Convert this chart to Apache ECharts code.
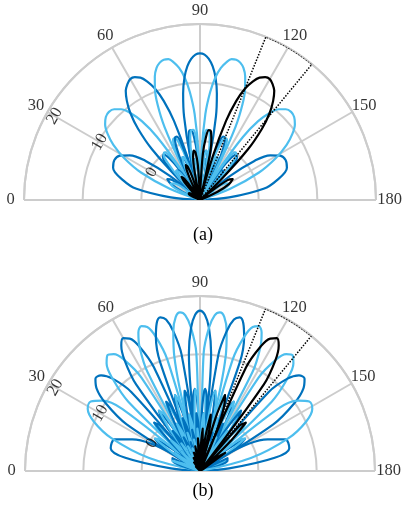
<!DOCTYPE html>
<html><head><meta charset="utf-8">
<script src="https://cdn.jsdelivr.net/npm/echarts@6/dist/echarts.min.js"></script>
<style>html,body{margin:0;padding:0;background:#fff}#c{width:404px;height:518px}</style>
</head><body><div id="c"></div>
<script>
// ---------- data ----------
const angleTicks = [0, 30, 60, 90, 120, 150, 180];
const radiusTicks = [0, 10, 20];
const radiusMin = -10, radiusMax = 20;
const radiusLabelAngle = 30;
const sectorEdges = [112, 129.5];
const sectorArc = [112, 115, 118, 121, 124, 127, 129.5];
const panelLabels = ['(a)', '(b)'];

const thetaDeg = [0,5,10,
 14.36,20.36,25.00,28.96,32.46,35.66,38.62,41.41,44.05,46.57,
 48.99,51.32,53.58,55.77,57.91,60.00,62.05,64.06,66.03,67.98,
 69.89,71.79,73.67,75.52,77.36,79.19,81.01,82.82,84.62,86.42,
 88.21,90.00,91.79,93.58,95.38,97.18,98.99,100.81,102.64,104.48,
 106.33,108.21,110.11,112.02,113.97,115.94,117.95,120.00,122.09,124.23,
 126.42,128.68,131.01,133.43,135.95,138.59,141.38,144.34,147.54,151.04,
 155.00,159.64,165.64,
 170,175,180];

// panel (a) beams (dB)
const gainA_0 = [-10,-5,1.0,
 3.5,5.8,6.1,5.6,4.2,1.5,-3.5,-10,-7.2,-2.3,
 -0.4,-0.1,-1.1,-3.8,-9.4,-10,-9.9,-4.8,-2.6,-2.1,
 -3.0,-5.4,-10,-10,-10,-5.9,-3.6,-3.0,-3.7,-6.1,
 -10,-10,-10,-6.1,-3.7,-3.0,-3.6,-5.9,-10,-10,
 -10,-5.4,-3.0,-2.1,-2.6,-4.8,-9.9,-10,-9.4,-3.8,
 -1.1,-0.1,-0.4,-2.3,-7.2,-10,-3.5,1.5,4.2,5.6,
 6.1,5.8,3.5,
 1.0,-5,-10];
const gainA_41 = [-10,-10,-10,
 -10,-4.5,1.1,4.8,7.5,9.4,10.7,11.4,11.6,11.3,
 10.5,9.0,6.7,3.0,-3.4,-10,-5.1,-0.5,1.3,1.4,
 0.2,-2.6,-8.3,-10,-9.0,-4.0,-2.0,-1.5,-2.5,-5.0,
 -10,-10,-10,-5.7,-3.5,-3.0,-3.8,-6.2,-10,-10,
 -10,-6.5,-4.2,-3.6,-4.3,-6.6,-10,-10,-10,-6.6,
 -4.3,-3.6,-4.3,-6.6,-10,-10,-10,-6.8,-4.7,-4.3,
 -5.5,-8.7,-10,
 -10,-10,-10];
const gainA_60 = [-10,-10,-10,
 -10,-10,-6.7,-4.3,-3.4,-4.2,-8.1,-10,-5.1,1.9,
 6.1,9.0,11.0,12.5,13.3,13.8,13.7,13.2,12.1,10.5,
 8.0,4.2,-2.3,-10,-4.2,0.3,1.9,2.0,0.7,-2.1,
 -8.0,-10,-8.8,-3.9,-1.9,-1.5,-2.5,-5.1,-10,-10,
 -10,-6.1,-4.0,-3.6,-4.4,-7.0,-10,-10,-10,-7.7,
 -5.5,-5.0,-5.9,-8.5,-10,-10,-10,-9.7,-7.8,-7.8,
 -9.3,-10,-10,
 -10,-10,-10];
const gainA_76 = [-10,-10,-10,
 -10,-10,-9.9,-7.8,-7.3,-8.5,-10,-10,-10,-4.9,
 -1.7,-0.1,0.1,-1.2,-5.5,-10,-3.0,3.8,7.8,10.5,
 12.4,13.7,14.4,14.7,14.6,13.9,12.8,11.1,8.5,4.7,
 -2.0,-10,-4.0,0.4,2.0,2.0,0.6,-2.3,-8.2,-10,
 -9.2,-4.3,-2.4,-2.1,-3.2,-5.9,-10,-10,-10,-7.3,
 -5.4,-5.0,-6.1,-8.8,-10,-10,-10,-10,-9.1,-9.2,
 -10,-10,-10,
 -10,-10,-10];
const gainA_90 = [-10,-10,-10,
 -10,-10,-10,-9.2,-8.9,-10,-10,-10,-10,-7.8,
 -4.9,-3.6,-3.7,-5.5,-10,-10,-9.0,-3.0,0.0,1.4,
 1.5,0.0,-4.4,-10,-2.2,4.5,8.4,11.1,12.9,14.1,
 14.8,15.0,14.8,14.1,12.9,11.1,8.4,4.5,-2.2,-10,
 -4.4,0.0,1.5,1.4,0.0,-3.0,-9.0,-10,-10,-5.5,
 -3.7,-3.6,-4.9,-7.8,-10,-10,-10,-10,-8.9,-9.2,
 -10,-10,-10,
 -10,-10,-10];
const gainA_104 = [-10,-10,-10,
 -10,-10,-10,-9.2,-9.1,-10,-10,-10,-10,-8.8,
 -6.1,-5.0,-5.4,-7.3,-10,-10,-10,-5.9,-3.2,-2.1,
 -2.4,-4.3,-9.2,-10,-8.2,-2.3,0.6,2.0,2.0,0.4,
 -4.0,-10,-2.0,4.7,8.5,11.1,12.8,13.9,14.6,14.7,
 14.4,13.7,12.4,10.5,7.8,3.8,-3.0,-10,-5.5,-1.2,
 0.1,-0.1,-1.7,-4.9,-10,-10,-10,-8.5,-7.3,-7.8,
 -9.9,-10,-10,
 -10,-10,-10];
const gainA_120 = [-10,-10,-10,
 -10,-10,-9.3,-7.8,-7.8,-9.7,-10,-10,-10,-8.5,
 -5.9,-5.0,-5.5,-7.7,-10,-10,-10,-7.0,-4.4,-3.6,
 -4.0,-6.1,-10,-10,-10,-5.1,-2.5,-1.5,-1.9,-3.9,
 -8.8,-10,-8.0,-2.1,0.7,2.0,1.9,0.3,-4.2,-10,
 -2.3,4.2,8.0,10.5,12.1,13.2,13.7,13.8,13.3,12.5,
 11.0,9.0,6.1,1.9,-5.1,-10,-8.1,-4.2,-3.4,-4.3,
 -6.7,-10,-10,
 -10,-10,-10];
const gainA_139 = [-10,-10,-10,
 -10,-8.7,-5.5,-4.3,-4.7,-6.8,-10,-10,-10,-6.6,
 -4.3,-3.6,-4.3,-6.6,-10,-10,-10,-6.6,-4.3,-3.6,
 -4.2,-6.5,-10,-10,-10,-6.2,-3.8,-3.0,-3.5,-5.7,
 -10,-10,-10,-5.0,-2.5,-1.5,-2.0,-4.0,-9.0,-10,
 -8.3,-2.6,0.2,1.4,1.3,-0.5,-5.1,-10,-3.4,3.0,
 6.7,9.0,10.5,11.3,11.6,11.4,10.7,9.4,7.5,4.8,
 1.1,-4.5,-10,
 -10,-10,-10];

// panel (b) beams (dB)
const gainB_0 = [-10,-5,3,
 5.8,5.6,2.8,-10,-2.7,-0.5,-4.2,-10,-5.4,-2.8,
 -6.3,-10,-7.0,-4.3,-7.6,-10,-8.1,-5.3,-8.5,-10,
 -8.8,-5.9,-9.1,-10,-9.3,-6.4,-9.4,-10,-9.5,-6.6,
 -9.6,-10,-9.6,-6.6,-9.5,-10,-9.4,-6.4,-9.3,-10,
 -9.1,-5.9,-8.8,-10,-8.5,-5.3,-8.1,-10,-7.6,-4.3,
 -7.0,-10,-6.3,-2.8,-5.4,-10,-4.2,-0.5,-2.7,-10,
 2.8,5.6,5.8,
 3,-5,-10];
const gainB_29 = [-10,-10,-10,
 -1.0,6.2,10.1,12.0,12.2,10.7,7.0,-10,-0.5,1.4,
 -2.6,-10,-4.1,-1.7,-5.3,-10,-6.2,-3.6,-6.9,-10,
 -7.5,-4.8,-8.1,-10,-8.5,-5.7,-8.8,-10,-9.1,-6.2,
 -9.3,-10,-9.5,-6.6,-9.6,-10,-9.7,-6.7,-9.7,-10,
 -9.7,-6.7,-9.6,-10,-9.5,-6.4,-9.3,-10,-9.1,-6.0,
 -8.9,-10,-8.6,-5.4,-8.3,-10,-7.9,-4.7,-7.6,-10,
 -7.6,-5.0,-9.4,
 -10,-10,-10];
const gainB_41 = [-10,-10,-10,
 -10,-5.0,-4.8,-10,4.9,9.9,12.7,13.9,13.6,11.8,
 7.9,-10,0.8,2.5,-1.6,-10,-3.3,-1.0,-4.6,-10,
 -5.6,-3.1,-6.5,-10,-7.2,-4.5,-7.8,-10,-8.3,-5.5,
 -8.7,-10,-9.1,-6.2,-9.4,-10,-9.6,-6.7,-9.8,-10,
 -9.9,-7.0,-10,-10,-10,-7.1,-10,-10,-10,-7.1,
 -10,-10,-10,-7.1,-10,-10,-10,-7.3,-10,-10,
 -10,-9.2,-10,
 -10,-10,-10];
const gainB_51 = [-10,-10,-10,
 -10,-9.2,-9.7,-10,-5.6,-0.5,-1.4,-10,7.1,11.8,
 14.4,15.4,14.9,13.0,8.9,-10,1.6,3.2,-0.9,-10,
 -2.8,-0.5,-4.2,-10,-5.3,-2.8,-6.3,-10,-7.0,-4.4,
 -7.7,-10,-8.3,-5.5,-8.8,-10,-9.2,-6.4,-9.5,-10,
 -9.9,-7.0,-10,-10,-10,-7.5,-10,-10,-10,-7.9,
 -10,-10,-10,-8.3,-10,-10,-10,-9.0,-10,-10,
 -10,-10,-10,
 -10,-10,-10];
const gainB_60 = [-10,-10,-10,
 -10,-10,-10,-10,-9.2,-4.7,-6.3,-10,-3.3,1.4,
 0.3,-10,8.4,13.0,15.4,16.3,15.7,13.7,9.5,-10,
 2.2,3.7,-0.5,-10,-2.4,-0.2,-3.9,-10,-5.1,-2.7,
 -6.1,-10,-7.0,-4.4,-7.7,-10,-8.4,-5.7,-8.9,-10,
 -9.4,-6.7,-9.9,-10,-10,-7.5,-10,-10,-10,-8.2,
 -10,-10,-10,-9.0,-10,-10,-10,-10,-10,-10,
 -10,-10,-10,
 -10,-10,-10];
const gainB_68 = [-10,-10,-10,
 -10,-10,-10,-10,-10,-7.3,-9.2,-10,-7.0,-2.8,
 -4.7,-10,-2.0,2.5,1.3,-10,9.2,13.7,16.0,16.8,
 16.3,14.2,9.9,-10,2.5,4.0,-0.3,-10,-2.3,-0.1,
 -3.8,-10,-5.1,-2.7,-6.2,-10,-7.1,-4.5,-7.9,-10,
 -8.6,-5.9,-9.3,-10,-9.9,-7.1,-10,-10,-10,-8.2,
 -10,-10,-10,-9.3,-10,-10,-10,-10,-10,-10,
 -10,-10,-10,
 -10,-10,-10];
const gainB_76 = [-10,-10,-10,
 -10,-10,-10,-10,-10,-9.0,-10,-10,-9.3,-5.4,
 -7.5,-10,-5.7,-1.7,-3.7,-10,-1.2,3.2,1.9,-10,
 9.8,14.2,16.4,17.2,16.6,14.4,10.2,-10,2.7,4.1,
 -0.1,-10,-2.2,-0.1,-3.9,-10,-5.2,-2.8,-6.4,-10,
 -7.4,-4.8,-8.2,-10,-9.0,-6.4,-9.8,-10,-10,-7.9,
 -10,-10,-10,-9.3,-10,-10,-10,-10,-10,-10,
 -10,-10,-10,
 -10,-10,-10];
const gainB_83 = [-10,-10,-10,
 -10,-10,-10,-10,-10,-10,-10,-10,-10,-7.1,
 -9.4,-10,-8.0,-4.3,-6.5,-10,-4.9,-1.0,-3.0,-10,
 -0.7,3.7,2.3,-10,10.1,14.4,16.7,17.4,16.8,14.6,
 10.3,-10,2.7,4.1,-0.2,-10,-2.3,-0.2,-4.0,-10,
 -5.5,-3.1,-6.7,-10,-7.8,-5.3,-8.8,-10,-9.7,-7.1,
 -10,-10,-10,-9.0,-10,-10,-10,-10,-10,-10,
 -10,-10,-10,
 -10,-10,-10];
const gainB_90 = [-10,-10,-10,
 -10,-10,-10,-10,-10,-10,-10,-10,-10,-8.3,
 -10,-10,-9.6,-6.0,-8.4,-10,-7.2,-3.6,-5.9,-10,
 -4.4,-0.5,-2.6,-10,-0.4,4.0,2.6,-10,10.3,14.6,
 16.8,17.5,16.8,14.6,10.3,-10,2.6,4.0,-0.4,-10,
 -2.6,-0.5,-4.4,-10,-5.9,-3.6,-7.2,-10,-8.4,-6.0,
 -9.6,-10,-10,-8.3,-10,-10,-10,-10,-10,-10,
 -10,-10,-10,
 -10,-10,-10];
const gainB_97 = [-10,-10,-10,
 -10,-10,-10,-10,-10,-10,-10,-10,-10,-9.0,
 -10,-10,-10,-7.1,-9.7,-10,-8.8,-5.3,-7.8,-10,
 -6.7,-3.1,-5.5,-10,-4.0,-0.2,-2.3,-10,-0.2,4.1,
 2.7,-10,10.3,14.6,16.8,17.4,16.7,14.4,10.1,-10,
 2.3,3.7,-0.7,-10,-3.0,-1.0,-4.9,-10,-6.5,-4.3,
 -8.0,-10,-9.4,-7.1,-10,-10,-10,-10,-10,-10,
 -10,-10,-10,
 -10,-10,-10];
const gainB_104 = [-10,-10,-10,
 -10,-10,-10,-10,-10,-10,-10,-10,-10,-9.3,
 -10,-10,-10,-7.9,-10,-10,-9.8,-6.4,-9.0,-10,
 -8.2,-4.8,-7.4,-10,-6.4,-2.8,-5.2,-10,-3.9,-0.1,
 -2.2,-10,-0.1,4.1,2.7,-10,10.2,14.4,16.6,17.2,
 16.4,14.2,9.8,-10,1.9,3.2,-1.2,-10,-3.7,-1.7,
 -5.7,-10,-7.5,-5.4,-9.3,-10,-10,-9.0,-10,-10,
 -10,-10,-10,
 -10,-10,-10];
const gainB_112 = [-10,-10,-10,
 -10,-10,-10,-10,-10,-10,-10,-10,-10,-9.3,
 -10,-10,-10,-8.2,-10,-10,-10,-7.1,-9.9,-10,
 -9.3,-5.9,-8.6,-10,-7.9,-4.5,-7.1,-10,-6.2,-2.7,
 -5.1,-10,-3.8,-0.1,-2.3,-10,-0.3,4.0,2.5,-10,
 9.9,14.2,16.3,16.8,16.0,13.7,9.2,-10,1.3,2.5,
 -2.0,-10,-4.7,-2.8,-7.0,-10,-9.2,-7.3,-10,-10,
 -10,-10,-10,
 -10,-10,-10];
const gainB_120 = [-10,-10,-10,
 -10,-10,-10,-10,-10,-10,-10,-10,-10,-9.0,
 -10,-10,-10,-8.2,-10,-10,-10,-7.5,-10,-10,
 -9.9,-6.7,-9.4,-10,-8.9,-5.7,-8.4,-10,-7.7,-4.4,
 -7.0,-10,-6.1,-2.7,-5.1,-10,-3.9,-0.2,-2.4,-10,
 -0.5,3.7,2.2,-10,9.5,13.7,15.7,16.3,15.4,13.0,
 8.4,-10,0.3,1.4,-3.3,-10,-6.3,-4.7,-9.2,-10,
 -10,-10,-10,
 -10,-10,-10];
const gainB_129 = [-10,-10,-10,
 -10,-10,-10,-10,-10,-9.0,-10,-10,-10,-8.3,
 -10,-10,-10,-7.9,-10,-10,-10,-7.5,-10,-10,
 -10,-7.0,-9.9,-10,-9.5,-6.4,-9.2,-10,-8.8,-5.5,
 -8.3,-10,-7.7,-4.4,-7.0,-10,-6.3,-2.8,-5.3,-10,
 -4.2,-0.5,-2.8,-10,-0.9,3.2,1.6,-10,8.9,13.0,
 14.9,15.4,14.4,11.8,7.1,-10,-1.4,-0.5,-5.6,-10,
 -9.7,-9.2,-10,
 -10,-10,-10];
const gainB_139 = [-10,-10,-10,
 -10,-9.2,-10,-10,-10,-7.3,-10,-10,-10,-7.1,
 -10,-10,-10,-7.1,-10,-10,-10,-7.1,-10,-10,
 -10,-7.0,-9.9,-10,-9.8,-6.7,-9.6,-10,-9.4,-6.2,
 -9.1,-10,-8.7,-5.5,-8.3,-10,-7.8,-4.5,-7.2,-10,
 -6.5,-3.1,-5.6,-10,-4.6,-1.0,-3.3,-10,-1.6,2.5,
 0.8,-10,7.9,11.8,13.6,13.9,12.7,9.9,4.9,-10,
 -4.8,-5.0,-10,
 -10,-10,-10];
const gainB_151 = [-10,-10,-10,
 -9.4,-5.0,-7.6,-10,-7.6,-4.7,-7.9,-10,-8.3,-5.4,
 -8.6,-10,-8.9,-6.0,-9.1,-10,-9.3,-6.4,-9.5,-10,
 -9.6,-6.7,-9.7,-10,-9.7,-6.7,-9.7,-10,-9.6,-6.6,
 -9.5,-10,-9.3,-6.2,-9.1,-10,-8.8,-5.7,-8.5,-10,
 -8.1,-4.8,-7.5,-10,-6.9,-3.6,-6.2,-10,-5.3,-1.7,
 -4.1,-10,-2.6,1.4,-0.5,-10,7.0,10.7,12.2,12.0,
 10.1,6.2,-1.0,
 -10,-10,-10];

// ---------- styling ----------
const DARK = '#0072bd', LIGHT = '#4dbeee', BLACK = '#000000', GRID = '#cccccc';
const FONT = '"Liberation Serif","Times New Roman",serif';
const FS = 16.5;
const ANGLE_LABEL_GAP = 13.5;   // px beyond the outer ring

const panels = [
  {center: [200, 200], radius: 176, label: [203, 235],
   beams: [[gainA_0, DARK], [gainA_41, LIGHT], [gainA_60, DARK], [gainA_76, LIGHT], [gainA_90, DARK],
           [gainA_104, LIGHT], [gainA_139, LIGHT], [gainA_120, BLACK]]},
  {center: [200, 471], radius: 175, label: [203, 491],
   beams: [[gainB_0, DARK], [gainB_29, LIGHT], [gainB_41, DARK], [gainB_51, LIGHT], [gainB_60, DARK],
           [gainB_68, LIGHT], [gainB_76, DARK], [gainB_83, LIGHT], [gainB_90, DARK], [gainB_97, LIGHT],
           [gainB_104, DARK], [gainB_112, LIGHT], [gainB_129, LIGHT], [gainB_139, DARK], [gainB_151, LIGHT],
           [gainB_120, BLACK]]}
];
// offsets are in the rotated text frame: +y points toward the centre
const radiusLabelOffsets = [[0, 3], [0, 1.5], [0, 8]];

const option = {animation: false, backgroundColor: '#fff',
  polar: [], angleAxis: [], radiusAxis: [], series: [], graphic: []};

const labelStyle = {show: true, position: 'inside', color: '#000', fontFamily: FONT, fontSize: FS};

panels.forEach((p, pi) => {
  option.polar.push({center: p.center, radius: p.radius});
  option.angleAxis.push({polarIndex: pi, type: 'value', min: angleTicks[0], max: angleTicks[angleTicks.length - 1],
    interval: angleTicks[1] - angleTicks[0], startAngle: 180, endAngle: 0, clockwise: true,
    axisLine: {show: true, lineStyle: {color: GRID, width: 2}}, axisTick: {show: false},
    axisLabel: {show: false},
    splitLine: {show: true, lineStyle: {color: GRID, width: 2}}});
  option.radiusAxis.push({polarIndex: pi, type: 'value', min: radiusMin, max: radiusMax,
    interval: radiusTicks[1] - radiusTicks[0],
    axisLine: {show: false}, axisTick: {show: false}, axisLabel: {show: false},
    splitLine: {show: true, lineStyle: {color: GRID, width: 2}}});
  p.beams.forEach(([g, col], k) => {
    if (g.length !== thetaDeg.length) throw new Error('length mismatch panel ' + pi + ' beam ' + k + ': ' + g.length);
    option.series.push({type: 'line', coordinateSystem: 'polar', polarIndex: pi, silent: true,
      symbol: 'none', showSymbol: false, smooth: 0.35, z: col === BLACK ? 4 : 3,
      lineStyle: {color: col, width: 2.2, join: 'round'}, itemStyle: {color: col},
      data: thetaDeg.map((t, j) => [g[j], t])});
  });
  const sec = [[radiusMin, sectorEdges[0]]].concat(sectorArc.map(a => [radiusMax, a]), [[radiusMin, sectorEdges[1]]]);
  option.series.push({type: 'line', coordinateSystem: 'polar', polarIndex: pi, silent: true, symbol: 'none', z: 6,
    lineStyle: {color: '#000', width: 1.5, type: [1.5, 1.5]}, data: sec});
  // radial tick labels (rotated, along the 30 degree spoke)
  option.series.push({type: 'scatter', coordinateSystem: 'polar', polarIndex: pi, silent: true, symbolSize: 1, z: 7,
    itemStyle: {color: 'rgba(0,0,0,0)'},
    label: Object.assign({}, labelStyle, {rotate: 60, formatter: q => String(q.value[0])}),
    data: radiusTicks.map((r, k) => ({value: [r, radiusLabelAngle], label: {offset: radiusLabelOffsets[k]}}))});
  // angular tick labels, centred just outside the outer ring
  option.series.push({type: 'scatter', coordinateSystem: 'polar', polarIndex: pi, silent: true, symbolSize: 1, z: 7,
    itemStyle: {color: 'rgba(0,0,0,0)'},
    label: Object.assign({}, labelStyle, {formatter: q => String(q.value[1])}),
    data: angleTicks.map(a => {
      const rad = a * Math.PI / 180;
      return {value: [radiusMax, a],
        label: {offset: [-Math.cos(rad) * ANGLE_LABEL_GAP, -Math.sin(rad) * ANGLE_LABEL_GAP]}};
    })});
  option.graphic.push({type: 'text', x: p.label[0], y: p.label[1],
    style: {text: panelLabels[pi], font: '18px ' + FONT, fill: '#000', align: 'center', verticalAlign: 'middle'}});
});

const chart = echarts.init(document.getElementById('c'), null, {renderer: 'canvas', width: 404, height: 518});
chart.setOption(option);
</script>
</body></html>
